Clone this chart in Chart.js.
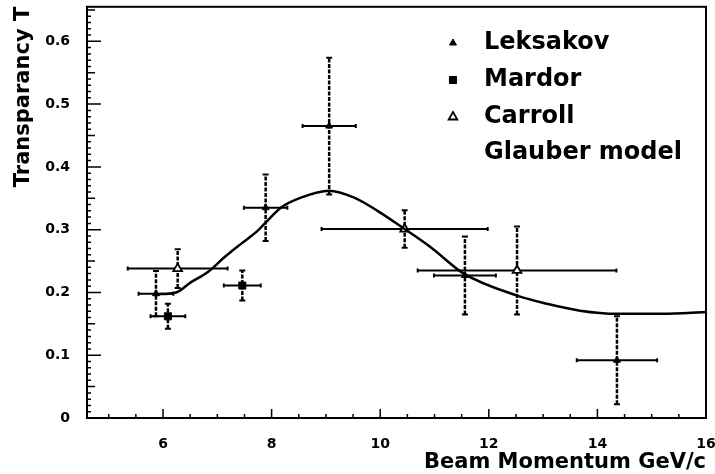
<!DOCTYPE html>
<html>
<head>
<meta charset="utf-8">
<script src="https://cdn.jsdelivr.net/npm/chart.js@4.4.1/dist/chart.umd.min.js"></script>
<style>
  html, body { margin: 0; padding: 0; background: #fff; }
</style>
</head>
<body>
<canvas id="chart" width="715" height="474"></canvas>
<script>
// Leksakov (filled triangles)
const leksX = [5.87, 7.89, 9.06, 11.56, 14.36];
const leksY = [0.198, 0.335, 0.465, 0.227, 0.092];
const leksXErr = [0.32, 0.40, 0.49, 0.57, 0.74];
const leksYErr = [0.036, 0.053, 0.109, 0.062, 0.070];

// Mardor (filled squares)
const mardX = [6.09, 7.46];
const mardY = [0.162, 0.211];
const mardXErr = [0.32, 0.34];
const mardYErr = [0.020, 0.024];

// Carroll (open triangles)
const carrX = [6.27, 10.45, 12.52];
const carrY = [0.238, 0.301, 0.235];
const carrXErr = [0.92, 1.53, 1.83];
const carrYErr = [0.031, 0.030, 0.070];

// Glauber model curve
const glauberX = [5.87, 6.24, 6.51, 6.82, 7.13, 7.43, 7.74, 7.92, 8.17, 8.54, 9.06, 9.52, 9.95, 10.45, 10.93, 11.54, 12.52, 13.07, 13.68, 14.36, 15.21, 16.0];
const glauberY = [0.197, 0.200, 0.216, 0.232, 0.256, 0.277, 0.298, 0.314, 0.335, 0.351, 0.362, 0.351, 0.330, 0.301, 0.272, 0.230, 0.195, 0.182, 0.171, 0.166, 0.166, 0.169];

const xTickLabels = [6, 8, 10, 12, 14, 16];
const yTickLabels = [0, 0.1, 0.2, 0.3, 0.4, 0.5, 0.6];

const toPoints = (xs, ys) => xs.map((x, i) => ({ x, y: ys[i] }));

// error bars, frame, inward ticks
const decorPlugin = {
  id: 'decor',
  beforeDatasetsDraw(chart) {
    const { ctx, scales: { x, y } } = chart;
    ctx.save();
    ctx.strokeStyle = '#000';
    chart.data.datasets.forEach(ds => {
      if (!ds.errX) return;
      ds.data.forEach((p, i) => {
        const px = x.getPixelForValue(p.x), py = y.getPixelForValue(p.y);
        const x0 = x.getPixelForValue(p.x - ds.errX[i]), x1 = x.getPixelForValue(p.x + ds.errX[i]);
        const y0 = y.getPixelForValue(p.y - ds.errY[i]), y1 = y.getPixelForValue(p.y + ds.errY[i]);
        // horizontal
        ctx.setLineDash([]);
        ctx.lineWidth = 2;
        ctx.beginPath();
        ctx.moveTo(x0, py); ctx.lineTo(x1, py);
        ctx.moveTo(x0, py - 2); ctx.lineTo(x0, py + 2);
        ctx.moveTo(x1, py - 2); ctx.lineTo(x1, py + 2);
        ctx.stroke();
        // vertical, looks dashed in the scan
        ctx.lineWidth = 2.5;
        ctx.setLineDash([4, 1.5]);
        ctx.beginPath();
        ctx.moveTo(px, y0); ctx.lineTo(px, y1);
        ctx.stroke();
        ctx.setLineDash([]);
        ctx.lineWidth = 2;
        ctx.beginPath();
        ctx.moveTo(px - 3, y0); ctx.lineTo(px + 3, y0);
        ctx.moveTo(px - 3, y1); ctx.lineTo(px + 3, y1);
        ctx.stroke();
      });
    });
    ctx.restore();
  },
  afterDraw(chart) {
    const { ctx, chartArea: a, scales: { x, y } } = chart;
    ctx.save();
    ctx.strokeStyle = '#000';
    ctx.lineWidth = 2;
    ctx.strokeRect(a.left, a.top, a.right - a.left, a.bottom - a.top);

    ctx.lineWidth = 1.5;
    ctx.beginPath();
    // y ticks every 0.01, longer at 0.05 and 0.1
    for (let k = 0; k <= 65; k++) {
      const py = y.getPixelForValue(k / 100);
      const len = k % 10 === 0 ? 14 : (k % 5 === 0 ? 8 : 4);
      ctx.moveTo(a.left, py); ctx.lineTo(a.left + len, py);
    }
    // x ticks every 0.5, longer at labelled values
    for (let k = 10; k <= 32; k++) {
      const v = k / 2;
      const px = x.getPixelForValue(v);
      const len = xTickLabels.includes(v) ? 9 : 4;
      ctx.moveTo(px, a.bottom); ctx.lineTo(px, a.bottom - len);
    }
    ctx.stroke();
    ctx.restore();
  }
};

// legend drawn inside the plot
const legendPlugin = {
  id: 'innerLegend',
  afterDraw(chart) {
    const { ctx } = chart;
    const rows = [
      { ds: 1, y: 43 },
      { ds: 2, y: 80 },
      { ds: 3, y: 117 },
      { ds: 0, y: 153 }
    ];
    ctx.save();
    ctx.font = 'bold 24px "DejaVu Sans"';
    ctx.textBaseline = 'middle';
    ctx.textAlign = 'left';
    rows.forEach(r => {
      const ds = chart.data.datasets[r.ds];
      if (ds.pointStyle && ds.pointRadius) {
        ctx.fillStyle = ds.pointBackgroundColor;
        ctx.strokeStyle = '#000';
        ctx.lineWidth = ds.pointBorderWidth;
        Chart.helpers.drawPoint(ctx, { pointStyle: ds.pointStyle, radius: ds.pointRadius, rotation: 0, borderWidth: ds.pointBorderWidth }, 453, r.y);
      }
      ctx.fillStyle = '#000';
      ctx.fillText(ds.label, 484, r.y);
    });
    ctx.restore();
  }
};

const tickFont = { family: 'DejaVu Sans', size: 14, weight: 'bold' };
const titleFont = { family: 'DejaVu Sans', size: 21, weight: 'bold', lineHeight: 1 };

new Chart(document.getElementById('chart'), {
  type: 'scatter',
  data: {
    datasets: [
      {
        label: 'Glauber model',
        data: toPoints(glauberX, glauberY),
        showLine: true,
        borderColor: '#000',
        borderWidth: 2.5,
        pointRadius: 0,
        tension: 0.4,
        cubicInterpolationMode: 'monotone',
        fill: false
      },
      {
        label: 'Leksakov',
        data: toPoints(leksX, leksY),
        errX: leksXErr, errY: leksYErr,
        pointStyle: 'triangle',
        pointRadius: 4,
        pointBackgroundColor: '#000',
        pointBorderColor: '#000',
        pointBorderWidth: 1
      },
      {
        label: 'Mardor',
        data: toPoints(mardX, mardY),
        errX: mardXErr, errY: mardYErr,
        pointStyle: 'rect',
        pointRadius: 5,
        pointBackgroundColor: '#000',
        pointBorderColor: '#000',
        pointBorderWidth: 1
      },
      {
        label: 'Carroll',
        data: toPoints(carrX, carrY),
        errX: carrXErr, errY: carrYErr,
        pointStyle: 'triangle',
        pointRadius: 5,
        pointBackgroundColor: '#fff',
        pointBorderColor: '#000',
        pointBorderWidth: 1.8
      }
    ]
  },
  options: {
    responsive: false,
    animation: false,
    layout: { padding: { top: 5, right: 9, left: 0, bottom: 0 } },
    plugins: {
      legend: { display: false },
      tooltip: { enabled: false }
    },
    scales: {
      x: {
        type: 'linear',
        min: 4.6,
        max: 16,
        afterFit: s => { s.height = 56; s.paddingLeft = 0; s.paddingRight = 0; },
        afterBuildTicks: s => { s.ticks = xTickLabels.map(v => ({ value: v })); },
        grid: { display: false },
        border: { display: false },
        ticks: { color: '#000', font: tickFont, padding: 10, maxRotation: 0, autoSkip: false },
        title: {
          display: true,
          text: 'Beam Momentum GeV/c',
          align: 'end',
          color: '#000',
          font: titleFont,
          padding: { top: 0, bottom: 1 }
        }
      },
      y: {
        type: 'linear',
        min: 0,
        max: 0.655,
        afterFit: s => { s.width = 87; s.paddingTop = 0; s.paddingBottom = 0; },
        afterBuildTicks: s => { s.ticks = yTickLabels.map(v => ({ value: v })); },
        grid: { display: false },
        border: { display: false },
        ticks: {
          color: '#000',
          font: tickFont,
          padding: 9,
          autoSkip: false,
          callback: v => v === 0 ? '0' : v.toFixed(1)
        },
        title: {
          display: true,
          text: 'Transparancy T',
          align: 'end',
          color: '#000',
          font: titleFont,
          padding: { top: 13, bottom: 0 }
        }
      }
    }
  },
  plugins: [decorPlugin, legendPlugin]
});
</script>
</body>
</html>
